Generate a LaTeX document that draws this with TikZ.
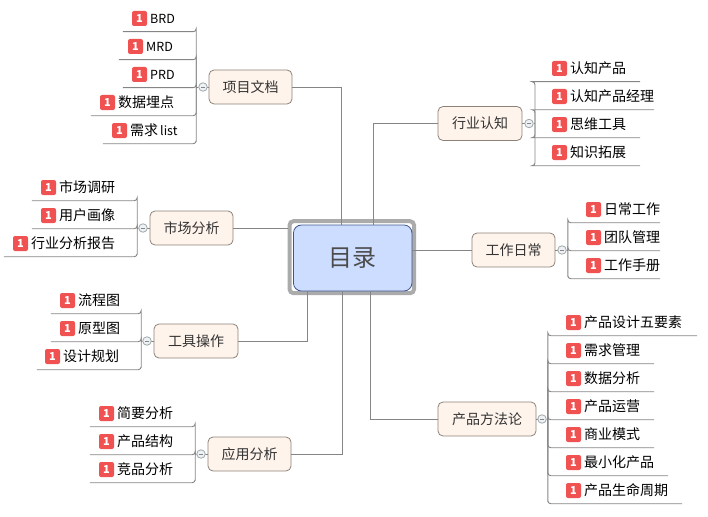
\documentclass[tikz,border=0pt]{standalone}
\usepackage{fontspec}
\setmainfont{Noto Sans CJK SC}
\definecolor{linkgray}{HTML}{858585}
\definecolor{topicfill}{HTML}{FEF4EC}
\definecolor{topicedge}{HTML}{8C8279}
\definecolor{badgered}{HTML}{F05252}
\definecolor{rootfill}{HTML}{CCDDFF}
\definecolor{rootedge}{HTML}{3F5590}
\definecolor{ringgray}{HTML}{ABABAB}
\definecolor{knobfill}{HTML}{EEF2F6}
\definecolor{knobedge}{HTML}{A0A8A8}
\tikzset{
  x=1pt, y=-1pt,
  link/.style={draw=linkgray, line width=0.9pt},
  branch/.style={link, rounded corners=3pt},
  topic/.style={draw=topicedge, fill=topicfill, rounded corners=5pt, line width=0.8pt,
    inner sep=0pt, minimum height=34pt, text=black!80, font=\fontsize{14}{14}\selectfont},
  rownode/.style={inner sep=0pt, minimum height=28pt},
  badge/.style={fill=badgered, rounded corners=2pt, minimum size=15pt, inner sep=0pt,
    text=white, font=\fontsize{11}{11}\selectfont\bfseries},
  rowtext/.style={anchor=west, inner sep=0pt, text=black, font=\fontsize{14}{14}\selectfont},
  knob/.style={circle, draw=knobedge, fill=knobfill, line width=0.8pt, minimum size=8.5pt, inner sep=0pt},
}
% Latin labels run a little smaller than the Chinese ones
\newcommand\latin[1]{{\fontsize{12.5}{14}\selectfont #1}}
% One leaf row: #1 name, #2 left end, #3 right end, #4 underline y, #5 badge centre x, #6 label
\newcommand\leafrow[6]{%
  \node[rownode, minimum width={#3-#2}] (#1) at ({(#2+#3)/2},{#4-14}) {};
  \node[badge] (#1b) at (#5,{#4-13}) {1};
  \node[rowtext] (#1t) at ({#5+10.5},{#4-13}) {#6};
}
% Knob with its minus sign, and the stub tying it to the topic box
\newcommand\knobat[4]{%
  \draw[link] (#2) -- (#3);
  \node[knob] (#1) at (#3) {};
  \draw[linkgray, line width=0.7pt] ([xshift=-2.2pt]#1.center) -- ([xshift=2.2pt]#1.center);
  \draw[link] (#1) -- (#4);
}
% Rounded branch from a trunk point to the far end of a leaf underline
\newcommand\branchR[2]{\draw[branch] (#1) |- (#2.south west) -- (#2.south east);}
\newcommand\branchL[2]{\draw[branch] (#1) |- (#2.south east) -- (#2.south west);}
\newcommand\topicbox[5]{%
  \node[topic, minimum width={#3-#2}] (#1) at ({(#2+#3)/2},#4) {#5\hspace{2pt}};
}
\begin{document}
\begin{tikzpicture}
\useasboundingbox (0,0) rectangle (708,516);

% central topic with its outer ring
\node[draw=ringgray, line width=4pt, rounded corners=4pt, minimum width=124.5pt, minimum height=72pt, inner sep=0pt] (ring) at (351.8,257.2) {};
\node[draw=rootedge, fill=rootfill, rounded corners=8pt, line width=0.8pt, minimum width=118.5pt, minimum height=66pt,
  inner sep=0pt, text=black!70, font=\fontsize{24}{24}\selectfont] (root) at (352.7,258) {目录};

% main topics
\topicbox{doc}{209}{292}{87}{项目文档}
\topicbox{mkt}{150}{233}{228}{市场分析}
\topicbox{tool}{154}{238}{341}{工具操作}
\topicbox{app}{208}{291}{454}{应用分析}
\topicbox{ind}{438}{522}{123.5}{行业认知}
\topicbox{work}{472}{555}{250}{工作日常}
\topicbox{meth}{438}{536}{419}{产品方法论}

% connectors from the central topic
\draw[link] (doc.east) -| (root.north -| 341,0);
\draw[link] (ind.west) -| (root.north -| 373,0);
\draw[link] (work.west) -- (root.east |- work.west);
\draw[link] (mkt.east) -- (ring.west |- mkt.east);
\draw[link] (tool.east) -| (root.south -| 307,0);
\draw[link] (app.east) -| (root.south -| 342,0);
\draw[link] (meth.west) -| (root.south -| 370,0);

% 项目文档
\leafrow{a1}{123}{196}{31.5}{139.5}{\latin{BRD}}
\leafrow{a2}{119}{196}{59.5}{135.5}{\latin{MRD}}
\leafrow{a3}{123}{196}{87.5}{139.5}{\latin{PRD}}
\leafrow{a4}{91}{196}{115.5}{107.5}{数据埋点}
\leafrow{a5}{103}{196}{143.5}{119.5}{需求\hspace{2pt}\latin{list}}
\coordinate (ta) at (a3.south east);
\knobat{ka}{doc.west}{203,87}{ta}
\foreach \n in {a1,a2,a3,a4,a5} {\branchL{ta}{\n}}

% 市场分析
\leafrow{b1}{32}{137}{200.5}{48.5}{市场调研}
\leafrow{b2}{32}{137}{228.5}{48.5}{用户画像}
\leafrow{b3}{4}{137}{256.5}{20.5}{行业分析报告}
\coordinate (tb) at (b2.south east);
\knobat{kb}{mkt.west}{143,228}{tb}
\foreach \n in {b1,b2,b3} {\branchL{tb}{\n}}

% 工具操作
\leafrow{c1}{51}{141}{313.5}{67.5}{流程图}
\leafrow{c2}{51}{141}{341.5}{67.5}{原型图}
\leafrow{c3}{37}{141}{369.5}{52.5}{设计规划}
\coordinate (tc) at (c2.south east);
\knobat{kc}{tool.west}{147,341}{tc}
\foreach \n in {c1,c2,c3} {\branchL{tc}{\n}}

% 应用分析
\leafrow{d1}{90}{195}{426.5}{106.5}{简要分析}
\leafrow{d2}{90}{195}{454.5}{106.5}{产品结构}
\leafrow{d3}{90}{195}{482.5}{106.5}{竞品分析}
\coordinate (td) at (d2.south east);
\knobat{kd}{app.west}{201,454}{td}
\foreach \n in {d1,d2,d3} {\branchL{td}{\n}}

% 行业认知
\leafrow{e1}{535}{640}{81.5}{559.5}{认知产品}
\leafrow{e2}{535}{654}{109.5}{559.5}{认知产品经理}
\leafrow{e3}{535}{640}{137.5}{559.5}{思维工具}
\leafrow{e4}{535}{640}{165.5}{559.5}{知识拓展}
\coordinate (te) at (535,123.5);
\knobat{ke}{ind.east}{529,123.5}{te}
\foreach \n in {e1,e2,e3,e4} {\branchR{te}{\n}}

% 工作日常
\leafrow{f1}{568}{660}{222.5}{593.5}{日常工作}
\leafrow{f2}{568}{660}{250.5}{593.5}{团队管理}
\leafrow{f3}{568}{660}{278.5}{593.5}{工作手册}
\coordinate (tf) at (f2.south west);
\knobat{kf}{work.east}{562,250}{tf}
\foreach \n in {f1,f2,f3} {\branchR{tf}{\n}}

% 产品方法论
\leafrow{g1}{548}{697}{335.5}{573.5}{产品设计五要素}
\leafrow{g2}{548}{654}{363.5}{573.5}{需求管理}
\leafrow{g3}{548}{654}{391.5}{573.5}{数据分析}
\leafrow{g4}{548}{654}{419.5}{573.5}{产品运营}
\leafrow{g5}{548}{654}{447.5}{573.5}{商业模式}
\leafrow{g6}{548}{668}{475.5}{573.5}{最小化产品}
\leafrow{g7}{548}{682}{503.5}{573.5}{产品生命周期}
\coordinate (tg) at (g4.south west);
\knobat{kg}{meth.east}{542,419}{tg}
\foreach \n in {g1,g2,g3,g4,g5,g6,g7} {\branchR{tg}{\n}}
\end{tikzpicture}
\end{document}
